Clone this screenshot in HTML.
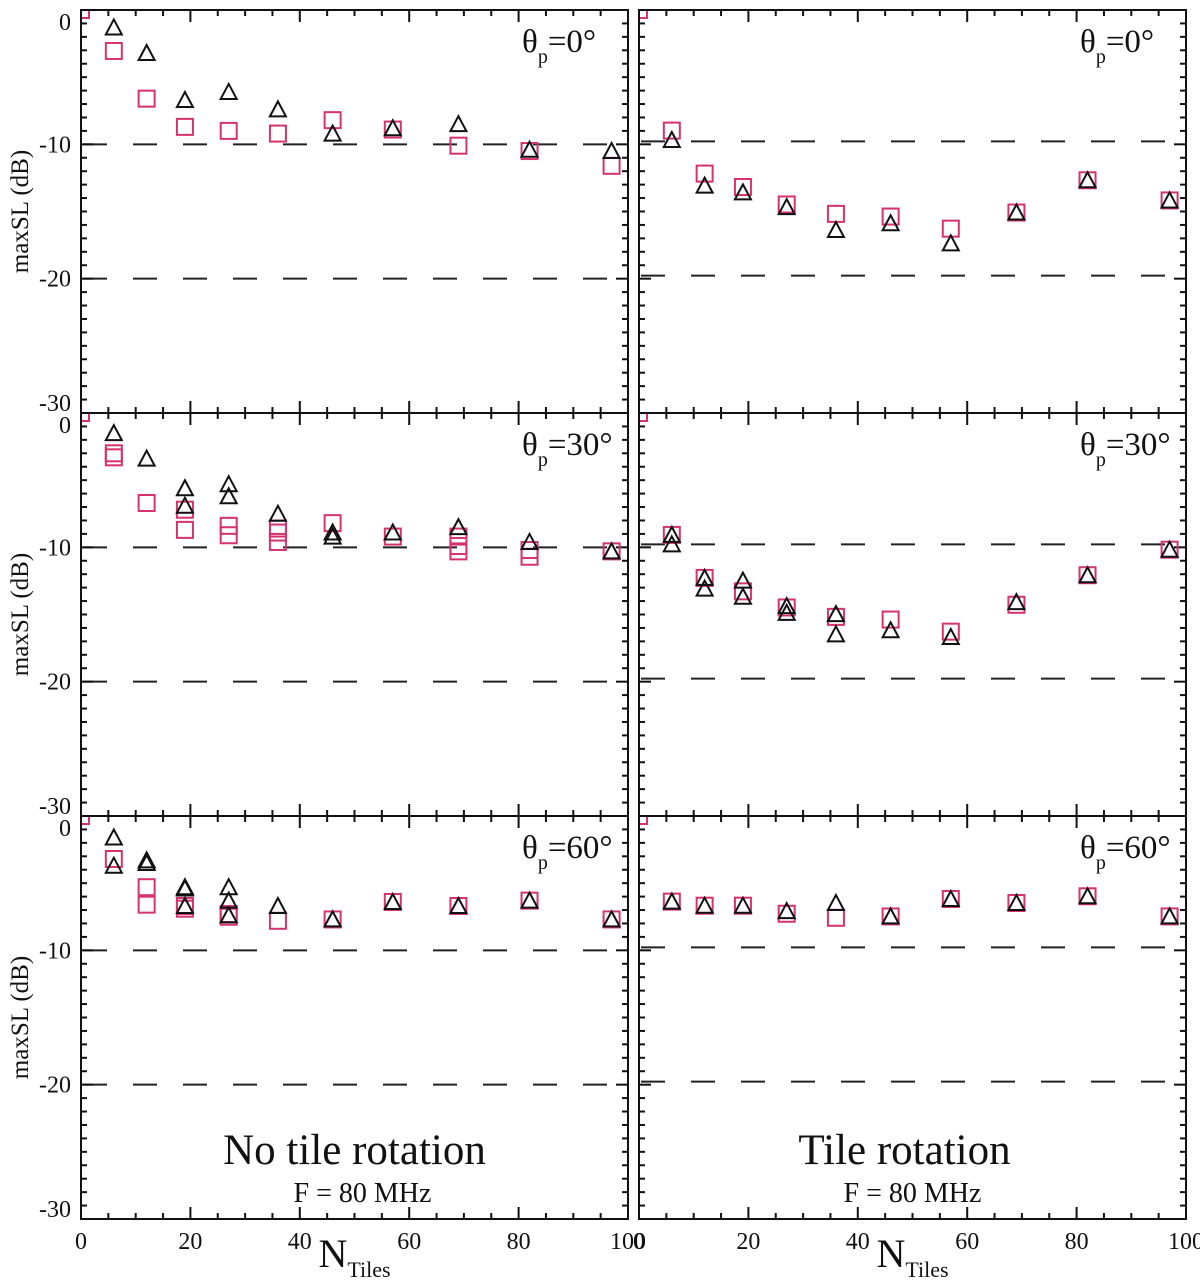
<!DOCTYPE html>
<html><head><meta charset="utf-8"><style>
html,body{margin:0;padding:0;background:#fff;}
svg{display:block;font-family:"Liberation Serif",serif;}
</style></head><body>
<svg id="c" width="1200" height="1283" viewBox="0 0 1200 1283" xmlns="http://www.w3.org/2000/svg"></svg>
<script>
const xTicks = [0,20,40,60,80,100];
const yTicks = [0,-10,-20,-30];
const angles = ["0","30","60"];
// NTiles positions
const NL = [6,12,19,27,36,46,57,69,82,97];
// panel data: [x, value]
const p00tri = [[6,-1.3],[12,-3.2],[19,-6.7],[27,-6.1],[36,-7.4],[46,-9.2],[57,-8.8],[69,-8.5],[82,-10.4],[97,-10.5]];
const p00sq  = [[6,-3.05],[12,-6.6],[19,-8.7],[27,-9.0],[36,-9.2],[46,-8.2],[57,-8.9],[69,-10.1],[82,-10.5],[97,-11.6]];
const p01tri = [[6,-9.9],[12,-13.3],[19,-13.8],[27,-14.9],[36,-16.6],[46,-16.1],[57,-17.6],[69,-15.3],[82,-12.9],[97,-14.4]];
const p01sq  = [[6,-9.2],[12,-12.4],[19,-13.4],[27,-14.7],[36,-15.4],[46,-15.6],[57,-16.5],[69,-15.3],[82,-12.9],[97,-14.4]];
const p10tri = [[6,-1.5],[12,-3.4],[19,-5.6],[19,-6.9],[27,-5.3],[27,-6.2],[36,-7.5],[46,-8.9],[46,-9.2],[57,-8.9],[69,-8.5],[82,-9.6],[97,-10.3]];
const p10sq  = [[6,-3.0],[6,-3.3],[12,-6.7],[19,-7.2],[19,-8.7],[27,-8.4],[27,-9.1],[36,-8.6],[36,-8.9],[36,-9.6],[46,-8.2],[57,-9.2],[69,-9.2],[69,-9.9],[69,-10.3],[82,-10.2],[82,-10.7],[97,-10.3]];
const p11tri = [[6,-9.3],[6,-10.0],[12,-12.5],[12,-13.3],[19,-12.7],[19,-13.9],[27,-14.6],[27,-15.1],[36,-15.2],[36,-16.7],[46,-16.4],[57,-16.9],[69,-14.3],[82,-12.3],[97,-10.4]];
const p11sq  = [[6,-9.3],[12,-12.5],[19,-13.5],[27,-14.7],[36,-15.4],[46,-15.6],[57,-16.5],[69,-14.5],[82,-12.3],[97,-10.4]];
const p20tri = [[6,-1.6],[6,-3.7],[12,-3.3],[12,-3.5],[19,-5.3],[19,-5.4],[19,-6.7],[27,-5.3],[27,-6.3],[27,-7.4],[36,-6.7],[46,-7.7],[57,-6.4],[69,-6.7],[82,-6.3],[97,-7.7]];
const p20sq  = [[6,-3.2],[12,-5.3],[12,-6.6],[19,-6.7],[19,-6.9],[27,-7.3],[27,-7.5],[36,-7.8],[46,-7.7],[57,-6.4],[69,-6.7],[82,-6.3],[97,-7.7]];
const p21tri = [[6,-6.6],[12,-6.9],[19,-6.9],[27,-7.3],[36,-6.7],[46,-7.7],[57,-6.4],[69,-6.7],[82,-6.2],[97,-7.7]];
const p21sq  = [[6,-6.6],[12,-6.9],[19,-6.9],[27,-7.5],[36,-7.8],[46,-7.7],[57,-6.4],[69,-6.7],[82,-6.2],[97,-7.7]];
const tris = [[p00tri,p01tri],[p10tri,p11tri],[p20tri,p21tri]];
const sqs  = [[p00sq,p01sq],[p10sq,p11sq],[p20sq,p21sq]];

const NS="http://www.w3.org/2000/svg";
const svg=document.getElementById('c');
const RED="#d6336c";
function mk(tag,attrs,parent){const e=document.createElementNS(NS,tag);for(const k in attrs)e.setAttribute(k,attrs[k]);(parent||svg).appendChild(e);return e;}
const colX=[[81,628],[639,1186]];
const rowY=[[10,413],[413,816],[816,1219]];
const yOff=[0,-3];
for(let r=0;r<3;r++){for(let c=0;c<2;c++){
  const [x0,x1]=colX[c],[y0,y1]=rowY[r];
  const sx=v=>x0+(x1-x0)*v/100;
  const sy=v=>y0+yOff[c]+(y1-y0)*(-v)/30;
  const g=mk('g',{});
  
  
  const cid='clip'+r+c;
  const cp=mk('clipPath',{id:cid},g);mk('rect',{x:x0,y:y0,width:x1-x0,height:y1-y0},cp);
  [-10,-20].forEach(v=>{const l=mk('line',{x1:x0,x2:x1,y1:sy(v),y2:sy(v),stroke:'#222','stroke-width':2,'stroke-dasharray':'24 26','stroke-dashoffset':'-2'},g);
    
    });
  for(let v=0;v<=100;v+=5){const L=v%20===0?12:6;const X=sx(v);
    mk('line',{x1:X,x2:X,y1:y0,y2:y0+L,stroke:'#111','stroke-width':2},g);
    mk('line',{x1:X,x2:X,y1:y1,y2:y1-L,stroke:'#111','stroke-width':2},g);}
  for(let v=0;v>=-30;v-=1){const L=v%10===0?12:6;const Y=y0+(y1-y0)*(-v)/30;
    mk('line',{x1:x0,x2:x0+L,y1:Y,y2:Y,stroke:'#111','stroke-width':2},g);
    mk('line',{x1:x1,x2:x1-L,y1:Y,y2:Y,stroke:'#111','stroke-width':2},g);}
  const cm=mk('rect',{x:x0-8,y:y0-8,width:16,height:16,fill:'none',stroke:RED,'stroke-width':2,'clip-path':'url(#'+cid+')'},g);
  
  
  sqs[r][c].forEach(d=>{const X=sx(d[0]),Y=sy(d[1]);
    const s=mk('rect',{x:X-8,y:Y-8,width:16,height:16,fill:'none',stroke:RED,'stroke-width':2},g);
    
    });
  tris[r][c].forEach(d=>{const X=sx(d[0]),Y=sy(d[1]);
    const t=mk('polygon',{points:`${X-8},${Y+7} ${X+8},${Y+7} ${X},${Y-8}`,fill:'none',stroke:'#111','stroke-width':2},g);
    
    });
  const fr=mk('rect',{x:x0,y:y0,width:x1-x0,height:y1-y0,fill:'none',stroke:'#111','stroke-width':2},g);
  
  
  const t=mk('text',{x:x1-106,y:y0+42,'font-size':33,fill:'#111'},g);
  
  
  t.innerHTML='θ<tspan font-size="20" dy="11">p</tspan><tspan dy="-11">='+angles[r]+'°</tspan>';
  if(c===0){yTicks.forEach(v=>{const Y=y0+(y1-y0)*(-v)/30;
      const ty=v===0?Y+20:(v===-30?Y-2:Y+8);
      const tl=mk('text',{x:x0-10,y:ty,'text-anchor':'end','font-size':24,fill:'#111'},g);
      
      
      tl.textContent=v;});
    const yt=mk('text',{transform:`translate(28,${(y0+y1)/2}) rotate(-90)`,'text-anchor':'middle','font-size':25,fill:'#111'},g);
    
    
    yt.textContent='maxSL (dB)';}
  if(r===2){xTicks.forEach(v=>{const tl=mk('text',{x:sx(v),y:1249,'text-anchor':'middle','font-size':24,fill:'#111'},g);
      
      
      tl.textContent=v;});
    const xt=mk('text',{x:sx(50),y:1267,'text-anchor':'middle','font-size':40,fill:'#111'},g);
    
    
    xt.innerHTML='N<tspan font-size="22" dy="10">Tiles</tspan>';
    const h=mk('text',{x:(x0+x1)/2+(c===0?0:-8),y:1164,'text-anchor':'middle','font-size':43,fill:'#111'},g);
    
    
    h.textContent=c===0?'No tile rotation':'Tile rotation';
    const f=mk('text',{x:(x0+x1)/2+(c===0?8:0),y:1202,'text-anchor':'middle','font-size':28,fill:'#111'},g);
    
    
    f.textContent='F = 80 MHz';}
}}
</script>
</body></html>
